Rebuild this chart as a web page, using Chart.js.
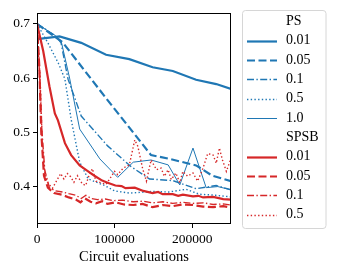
<!DOCTYPE html>
<html>
<head>
<meta charset="utf-8">
<script src="https://cdn.jsdelivr.net/npm/chart.js@4.4.0/dist/chart.umd.min.js"></script>
<style>
  html, body { margin: 0; padding: 0; background: #fff; }
  #wrap { width: 337px; height: 275px; position: relative; }
</style>
</head>
<body>
<div id="wrap"><canvas id="chart"></canvas></div>
<script>
// x = circuit evaluations, y = value
const ps001 = [[0,0.672],[29000,0.677],[57000,0.665],[89000,0.643],[119000,0.635],[149000,0.620],[175000,0.613],[205000,0.597],[231000,0.589],[250000,0.580]];
const ps005 = [[0,0.700],[33000,0.666],[89000,0.563],[147000,0.458],[171000,0.451],[205000,0.439],[226000,0.420],[250000,0.410]];
const ps01 = [[0,0.700],[24000,0.678],[31000,0.665],[40000,0.598],[57000,0.530],[91000,0.475],[121000,0.437],[145000,0.414],[175000,0.411],[205000,0.396],[231000,0.402],[250000,0.394]];
const ps05 = [[0,0.700],[14000,0.665],[28000,0.626],[36000,0.598],[44000,0.524],[49000,0.488],[55000,0.445],[66000,0.414],[87000,0.402],[100000,0.392],[119000,0.388],[149000,0.391],[170000,0.390],[192000,0.395],[209000,0.386],[230000,0.384],[250000,0.381]];
const ps10 = [[0,0.700],[24000,0.678],[31000,0.669],[42000,0.600],[55000,0.506],[81000,0.451],[104000,0.417],[124000,0.445],[147000,0.449],[169000,0.440],[184000,0.403],[201000,0.471],[218000,0.398],[233000,0.400],[250000,0.394]];

const spsb001 = [[0,0.700],[8000,0.650],[16000,0.585],[23000,0.535],[27000,0.522],[36000,0.480],[44000,0.458],[55000,0.439],[64000,0.430],[74000,0.420],[84000,0.411],[91000,0.407],[101000,0.402],[109000,0.401],[114000,0.397],[126000,0.398],[137000,0.392],[149000,0.388],[156000,0.390],[162000,0.386],[175000,0.386],[182000,0.383],[188000,0.385],[201000,0.382],[208000,0.383],[214000,0.380],[227000,0.381],[240000,0.377],[250000,0.376]];
const spsb005 = [[0,0.700],[3000,0.620],[5500,0.500],[9000,0.420],[14000,0.398],[22000,0.388],[32000,0.385],[41000,0.380],[50000,0.376],[56000,0.371],[62000,0.378],[69000,0.372],[76000,0.369],[84000,0.373],[91000,0.368],[101000,0.371],[112000,0.367],[124000,0.366],[136000,0.368],[149000,0.362],[162000,0.366],[175000,0.364],[188000,0.367],[201000,0.366],[214000,0.363],[227000,0.362],[240000,0.364],[250000,0.361]];
const spsb01 = [[0,0.700],[3500,0.600],[6500,0.500],[10000,0.430],[16000,0.398],[24000,0.392],[33000,0.390],[41000,0.387],[50000,0.384],[57000,0.378],[63000,0.384],[70000,0.378],[78000,0.376],[88000,0.377],[98000,0.374],[110000,0.375],[124000,0.372],[137000,0.373],[149000,0.370],[162000,0.372],[175000,0.369],[188000,0.371],[201000,0.369],[214000,0.370],[227000,0.367],[240000,0.368],[250000,0.366]];
const spsb05 = [[0,0.700],[4000,0.600],[7000,0.469],[9000,0.433],[13000,0.408],[20000,0.397],[30500,0.424],[34700,0.414],[39100,0.424],[43400,0.418],[47600,0.408],[52000,0.420],[58400,0.405],[62700,0.402],[66900,0.420],[71300,0.433],[76000,0.410],[89000,0.404],[100000,0.428],[104000,0.422],[111000,0.434],[119000,0.440],[126000,0.486],[130000,0.474],[136000,0.434],[141000,0.410],[147000,0.449],[154000,0.431],[160000,0.434],[164000,0.419],[169000,0.431],[173000,0.413],[179000,0.425],[184000,0.407],[188000,0.428],[194000,0.419],[201000,0.425],[207000,0.410],[214000,0.434],[220000,0.461],[227000,0.458],[231000,0.443],[235000,0.471],[239000,0.449],[244000,0.428],[250000,0.452]];

const groups = ['PS', 'SPSB'];
const xTicks = [0, 100000, 200000];
const yTicks = [0.4, 0.5, 0.6, 0.7];

const BLUE = '#1f77b4';
const RED = '#d62728';
const FONT = '"Liberation Serif", "DejaVu Serif", serif';

// matplotlib-like line styles
const styles = {
  solid:   { w: 2.2, dash: [] },
  dashed:  { w: 2.2, dash: [8, 3.5] },
  dashdot: { w: 1.4, dash: [7, 2.4, 1.4, 2.4] },
  dotted:  { w: 1.4, dash: [1.4, 2.3] },
  thin:    { w: 1.0, dash: [] }
};

function series(group, label, pts, color, style) {
  const s = styles[style];
  return {
    group: group,
    label: label,
    data: pts.map(p => ({ x: p[0], y: p[1] })),
    borderColor: color,
    backgroundColor: color,
    borderWidth: s.w,
    borderDash: s.dash,
    pointRadius: 0,
    tension: 0,
    fill: false
  };
}

const datasets = [
  series('PS', '0.01', ps001, BLUE, 'solid'),
  series('PS', '0.05', ps005, BLUE, 'dashed'),
  series('PS', '0.1', ps01, BLUE, 'dashdot'),
  series('PS', '0.5', ps05, BLUE, 'dotted'),
  series('PS', '1.0', ps10, BLUE, 'thin'),
  series('SPSB', '0.01', spsb001, RED, 'solid'),
  series('SPSB', '0.05', spsb005, RED, 'dashed'),
  series('SPSB', '0.1', spsb01, RED, 'dashdot'),
  series('SPSB', '0.5', spsb05, RED, 'dotted')
];
// later series on top, like matplotlib
datasets.forEach((d, i) => { d.order = -i; });

// axes frame (all four spines)
const framePlugin = {
  id: 'frame',
  afterDraw(chart) {
    const a = chart.chartArea;
    const ctx = chart.ctx;
    ctx.save();
    ctx.strokeStyle = '#000';
    ctx.lineWidth = 1;
    ctx.setLineDash([]);
    ctx.strokeRect(Math.round(a.left) + 0.5, Math.round(a.top) + 0.5,
      Math.round(a.right - a.left) - 1, Math.round(a.bottom - a.top) - 1);
    ctx.restore();
  }
};

// grouped legend with header rows
const groupLegend = {
  id: 'groupLegend',
  afterDraw(chart) {
    const ctx = chart.ctx;
    const x0 = 242.5, y0 = 10.5, w = 83.5, h = 218;
    ctx.save();
    ctx.beginPath();
    ctx.roundRect(x0, y0, w, h, 3);
    ctx.fillStyle = 'rgba(255,255,255,0.8)';
    ctx.fill();
    ctx.strokeStyle = '#d6d6d6';
    ctx.lineWidth = 1;
    ctx.stroke();

    ctx.font = '14px ' + FONT;
    ctx.textBaseline = 'middle';
    ctx.fillStyle = '#000';
    let y = 21.5;
    const step = 19.3;
    groups.forEach(g => {
      ctx.fillStyle = '#000';
      ctx.fillText(g, 286, y);
      y += step;
      chart.data.datasets.filter(d => d.group === g).forEach(d => {
        ctx.beginPath();
        ctx.strokeStyle = d.borderColor;
        ctx.lineWidth = d.borderWidth;
        ctx.setLineDash(d.borderDash);
        ctx.moveTo(247, Math.round(y) + 0.5);
        ctx.lineTo(277, Math.round(y) + 0.5);
        ctx.stroke();
        ctx.setLineDash([]);
        ctx.fillStyle = '#000';
        ctx.fillText(d.label, 286, y);
        y += step;
      });
    });
    ctx.restore();
  }
};

new Chart(document.getElementById('chart'), {
  type: 'line',
  data: { datasets: datasets },
  options: {
    responsive: true,
    maintainAspectRatio: false,
    animation: false,
    layout: { padding: { top: 13, right: 106, left: 0, bottom: 0 } },
    plugins: {
      legend: { display: false },
      tooltip: { enabled: false }
    },
    scales: {
      x: {
        type: 'linear',
        min: 0,
        max: 250000,
        afterFit(scale) { scale.height = 51; },
        afterBuildTicks(scale) { scale.ticks = xTicks.map(v => ({ value: v })); },
        grid: { drawOnChartArea: false, drawTicks: true, tickLength: 4, color: '#000', lineWidth: 1 },
        border: { display: false },
        ticks: {
          color: '#000',
          padding: 3,
          maxRotation: 0,
          font: { family: FONT, size: 13.5 },
          callback: v => String(v)
        },
        title: {
          display: true,
          text: 'Circuit evaluations',
          color: '#000',
          font: { family: FONT, size: 14.5 },
          padding: { top: 0, bottom: 9 }
        }
      },
      y: {
        type: 'linear',
        min: 0.331,
        max: 0.72,
        afterFit(scale) { scale.width = 37; },
        afterBuildTicks(scale) { scale.ticks = yTicks.map(v => ({ value: v })); },
        grid: { drawOnChartArea: false, drawTicks: true, tickLength: 4, color: '#000', lineWidth: 1 },
        border: { display: false },
        ticks: {
          color: '#000',
          padding: 3,
          font: { family: FONT, size: 13.5 },
          callback: v => v.toFixed(1)
        }
      }
    }
  },
  plugins: [framePlugin, groupLegend]
});
</script>
</body>
</html>
